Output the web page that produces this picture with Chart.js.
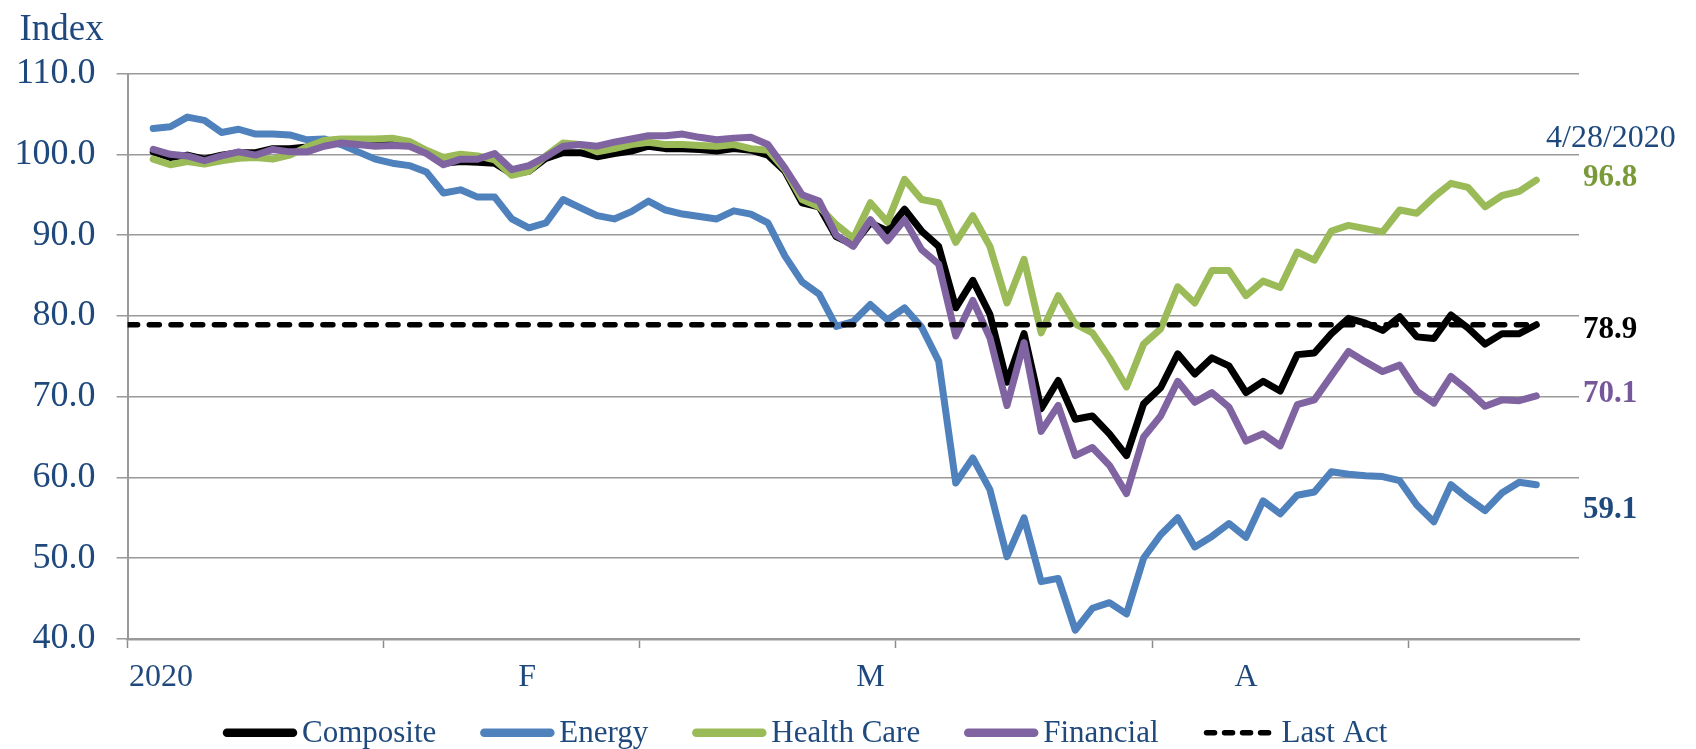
<!DOCTYPE html>
<html>
<head>
<meta charset="utf-8">
<title>Sector indexes</title>
<script src="https://cdn.jsdelivr.net/npm/chart.js@4.4.1/dist/chart.umd.min.js"></script>
<style>
    html, body { margin: 0; padding: 0; background: #ffffff; }
    canvas { display: block; }
</style>
</head>
<body>
<canvas id="chart" width="1696" height="749"></canvas>
<script>
/**
 * 데이터: 2019-12-31 ~ 2020-04-28 거래일별 지수
 */
const composite = [
    100.3, 99.6, 99.9, 99.4, 99.9, 100.2, 100.2, 100.7, 100.7, 100.9,
    101.4, 101.6, 101.6, 101.6, 101.6, 101.4, 100.3, 98.9, 99.1, 99.0,
    98.9, 97.6, 97.9, 99.5, 100.2, 100.2, 99.7, 100.1, 100.4, 101.0,
    100.7, 100.7, 100.6, 100.4, 100.7, 100.5, 99.9, 97.9, 94.0, 93.5,
    89.8, 88.8, 91.5, 90.5, 93.2, 90.5, 88.6, 81.0, 84.4, 80.2,
    71.8, 77.8, 68.5, 72.0, 67.2, 67.6, 65.4, 62.7, 69.1, 71.1,
    75.3, 72.8, 74.8, 73.8, 70.5, 71.9, 70.7, 75.2, 75.4, 77.8,
    79.7, 79.1, 78.2, 79.9, 77.4, 77.2, 80.1, 78.5, 76.5, 77.8,
    77.8, 78.9,
];
const energy = [
    103.2, 103.4, 104.6, 104.2, 102.7, 103.1, 102.5, 102.5, 102.4, 101.8,
    101.9, 101.2, 100.3, 99.4, 98.9, 98.6, 97.8, 95.2, 95.6, 94.7,
    94.7, 92.0, 90.9, 91.5, 94.4, 93.4, 92.4, 92.0, 92.9, 94.2,
    93.1, 92.6, 92.3, 92.0, 93.0, 92.6, 91.5, 87.4, 84.2, 82.7,
    78.7, 79.3, 81.4, 79.5, 81.0, 78.6, 74.4, 59.3, 62.4, 58.5,
    50.2, 55.0, 47.1, 47.5, 41.1, 43.8, 44.5, 43.1, 50.0, 52.9,
    55.0, 51.4, 52.7, 54.3, 52.6, 57.1, 55.5, 57.8, 58.2, 60.7,
    60.4, 60.2, 60.1, 59.6, 56.6, 54.5, 59.1, 57.4, 55.9, 58.1,
    59.4, 59.1,
];
const healthCare = [
    99.4, 98.7, 99.1, 98.8, 99.2, 99.5, 99.6, 99.4, 99.9, 100.9,
    101.7, 101.9, 101.9, 101.9, 102.0, 101.6, 100.5, 99.6, 100.0, 99.8,
    99.3, 97.4, 97.9, 99.8, 101.4, 101.2, 100.3, 100.7, 101.2, 101.5,
    101.2, 101.2, 101.1, 101.0, 101.2, 100.7, 100.5, 98.1, 94.4, 93.5,
    91.3, 89.6, 94.0, 91.6, 96.9, 94.4, 94.0, 89.1, 92.4, 88.6,
    81.6, 87.0, 77.9, 82.5, 79.0, 77.9, 74.8, 71.2, 76.5, 78.4,
    83.6, 81.6, 85.6, 85.6, 82.5, 84.3, 83.5, 87.9, 86.9, 90.5,
    91.2, 90.8, 90.4, 93.1, 92.7, 94.7, 96.4, 95.9, 93.5, 94.9,
    95.4, 96.8,
];
const financial = [
    100.6, 100.0, 99.8, 99.2, 99.8, 100.3, 99.9, 100.6, 100.3, 100.3,
    101.0, 101.4, 101.2, 101.0, 101.1, 101.0, 100.1, 98.7, 99.4, 99.4,
    100.1, 98.1, 98.6, 99.7, 101.0, 101.2, 101.0, 101.5, 101.9, 102.3,
    102.3, 102.5, 102.1, 101.8, 102.0, 102.1, 101.2, 98.3, 95.0, 94.2,
    90.0, 88.6, 91.9, 89.3, 91.9, 88.2, 86.4, 77.5, 81.9, 77.3,
    68.9, 76.7, 65.7, 68.9, 62.7, 63.7, 61.5, 58.0, 65.0, 67.6,
    71.9, 69.3, 70.5, 68.7, 64.5, 65.4, 63.9, 69.0, 69.6, 72.6,
    75.6, 74.3, 73.1, 73.9, 70.7, 69.2, 72.5, 70.8, 68.8, 69.6,
    69.5, 70.1,
];
const lastAct = 78.9;
const asOfLabel = '4/28/2020';

const seriesNames = ['Composite', 'Energy', 'Health Care', 'Financial', 'Last Act'];
const monthLabels = ['2020', 'F', 'M', 'A'];
// 라벨이 놓이는 거래일 순번
const monthLabelAt = [0.45, 21.9, 42, 64];

/**
 * 스타일
 */
const SERIF = "'Liberation Serif', 'Times New Roman', serif";
const TEXT_BLUE = '#1F497D';
const GRID_GRAY = '#999999';

// x축: 빈 칸 포함 눈금 범위, 15칸마다 눈금 표시
const X_MIN = -1.5;
const X_MAX = 83.5;
const MARK_EVERY = 15;

const xTicks = [];
for (let v = X_MIN; v < X_MAX; v += MARK_EVERY) {
    xTicks.push({ value: v, label: '', mark: true });
}
monthLabels.forEach((label, i) => {
    xTicks.push({ value: monthLabelAt[i], label: label, mark: false });
});
xTicks.sort((a, b) => a.value - b.value);

function findTick(value) {
    return xTicks.find(t => Math.abs(t.value - value) < 1e-6);
}

function toPoints(values) {
    return values.map((v, i) => ({ x: i, y: v }));
}

function lineDataset(label, values, color, order) {
    return {
        label: label,
        data: toPoints(values),
        borderColor: color,
        backgroundColor: color,
        borderWidth: 7,
        borderJoinStyle: 'round',
        borderCapStyle: 'round',
        pointRadius: 0,
        tension: 0,
        fill: false,
        order: order,
    };
}

const lastIndex = composite.length - 1;

// 끝 값 라벨 (y 위치 보정은 px)
const endLabels = [
    { values: healthCare, color: '#7A9A3A', dy: 6.3 },
    { values: composite, color: '#000000', dy: 13.6 },
    { values: financial, color: '#76589A', dy: 5.9 },
    { values: energy, color: TEXT_BLUE, dy: 33.3 },
];

/**
 * 제목, 날짜, 끝 값, 범례 그리기
 */
const overlayPlugin = {
    id: 'overlay',
    afterDraw(chart) {
        const { ctx, chartArea, scales } = chart;
        ctx.save();
        ctx.textAlign = 'left';
        ctx.textBaseline = 'alphabetic';

        ctx.fillStyle = TEXT_BLUE;
        ctx.font = `37px ${SERIF}`;
        ctx.fillText('Index', 19.5, 40);

        ctx.font = `32px ${SERIF}`;
        ctx.fillText(asOfLabel, chartArea.right - 33, 146.5);

        ctx.font = `bold 31px ${SERIF}`;
        endLabels.forEach(l => {
            const v = l.values[l.values.length - 1];
            ctx.fillStyle = l.color;
            ctx.fillText(v.toFixed(1), chartArea.right + 4, scales.y.getPixelForValue(v) + l.dy);
        });

        // 범례
        const ly = 732.7;
        let x = 223;
        ctx.font = `31px ${SERIF}`;
        chart.data.datasets.forEach(ds => {
            ctx.save();
            ctx.strokeStyle = ds.borderColor;
            ctx.lineCap = 'round';
            ctx.lineWidth = ds.borderDash ? 5.5 : 8.5;
            ctx.setLineDash(ds.borderDash ? [8, 10] : []);
            ctx.beginPath();
            ctx.moveTo(x + 4, ly);
            ctx.lineTo(x + 70, ly);
            ctx.stroke();
            ctx.restore();

            ctx.fillStyle = TEXT_BLUE;
            ctx.fillText(ds.label, x + 79, ly + 9);
            x += 79 + ctx.measureText(ds.label).width + 44;
        });

        ctx.restore();
    },
};

const canvas = document.getElementById('chart');
new Chart(canvas.getContext('2d'), {
    type: 'line',
    data: {
        datasets: [
            lineDataset(seriesNames[0], composite, '#000000', 4),
            lineDataset(seriesNames[1], energy, '#4F81BD', 3),
            lineDataset(seriesNames[2], healthCare, '#9BBB59', 2),
            lineDataset(seriesNames[3], financial, '#8064A2', 1),
            {
                label: seriesNames[4],
                data: [X_MIN, lastIndex].map(x => ({ x: x, y: lastAct })),
                borderColor: '#000000',
                borderWidth: 5.5,
                borderDash: [10, 11.7],
                borderCapStyle: 'round',
                pointRadius: 0,
                fill: false,
                order: 0,
            },
        ],
    },
    options: {
        responsive: false,
        devicePixelRatio: 1,
        animation: false,
        layout: {
            padding: { top: 73.5, right: 117, bottom: 50, left: 0 },
        },
        plugins: {
            legend: { display: false },
            tooltip: { enabled: false },
        },
        scales: {
            x: {
                type: 'linear',
                min: X_MIN,
                max: X_MAX,
                afterBuildTicks: axis => {
                    axis.ticks = xTicks.map(t => ({ value: t.value }));
                },
                afterFit: scale => {
                    scale.height = 60;
                },
                grid: {
                    drawOnChartArea: false,
                    drawTicks: true,
                    tickLength: 9,
                    tickWidth: 1.5,
                    tickColor: c => {
                        const t = c.tick && findTick(c.tick.value);
                        return t && t.mark ? '#8c8c8c' : 'rgba(0,0,0,0)';
                    },
                },
                border: { display: true, color: GRID_GRAY, width: 2.5 },
                ticks: {
                    autoSkip: false,
                    maxRotation: 0,
                    padding: 10,
                    color: TEXT_BLUE,
                    font: { family: SERIF, size: 32 },
                    callback: value => {
                        const t = findTick(value);
                        return t ? t.label : '';
                    },
                },
            },
            y: {
                min: 40,
                max: 110,
                afterFit: scale => {
                    scale.width = 127.6;
                },
                grid: {
                    color: GRID_GRAY,
                    lineWidth: 1.5,
                    tickLength: 11,
                    tickColor: GRID_GRAY,
                },
                border: { display: true, color: GRID_GRAY, width: 2 },
                ticks: {
                    stepSize: 10,
                    padding: 21,
                    color: TEXT_BLUE,
                    font: { family: SERIF, size: 36 },
                    callback: value => value.toFixed(1),
                },
            },
        },
    },
    plugins: [overlayPlugin],
});
</script>
</body>
</html>
